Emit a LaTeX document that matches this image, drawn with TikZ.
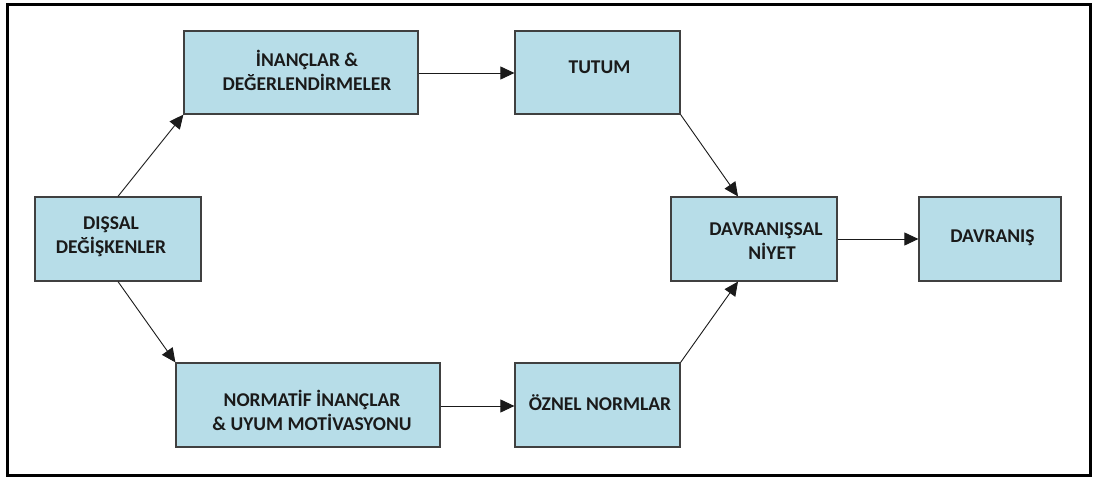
\documentclass[tikz,border=0pt]{standalone}
\usepackage{fontspec}
\setmainfont{Carlito}
\usetikzlibrary{arrows.meta}
\definecolor{boxfill}{HTML}{B7DDE8}
\definecolor{boxline}{HTML}{404040}
\definecolor{ink}{HTML}{1A1A1A}
\begin{document}
\begin{tikzpicture}[x=1pt,y=-1pt,
  box/.style={draw=boxline,line width=1.2pt,fill=boxfill,inner sep=0pt},
  lbl/.style={font=\bfseries\fontsize{19.5}{24}\selectfont,text=ink,align=center,inner sep=0pt},
  conn/.style={draw=ink,line width=0.9pt,-{Triangle[length=14pt,width=13pt]}}]
  \useasboundingbox (0,0) rectangle (1093,478);
  \fill[white] (0,0) rectangle (1093,478);
  \draw[line width=3pt] (7.5,4.5) rectangle (1090.5,475.5);

  % boxes
  \node[box,minimum width=234pt,minimum height=83pt] (inan) at (301,72.5) {};
  \node[box,minimum width=165pt,minimum height=83pt] (tutum) at (597.5,72.5) {};
  \node[box,minimum width=166pt,minimum height=84pt] (dis) at (118,239) {};
  \node[box,minimum width=264pt,minimum height=84pt] (norm) at (308,405) {};
  \node[box,minimum width=165pt,minimum height=84pt] (oznel) at (597.5,405) {};
  \node[box,minimum width=166pt,minimum height=84pt] (niyet) at (754,239) {};
  \node[box,minimum width=142pt,minimum height=84pt] (davr) at (990,239) {};

  % texts
  \node[lbl] (tinan) at (307,70) {İNANÇLAR \&\\DEĞERLENDİRMELER};
  \node[lbl] (ttutum) at (599.5,67) {TUTUM};
  \node[lbl] (tdis) at (111,237) {DIŞSAL\\DEĞİŞKENLER};
  \node[lbl] (tnorm) at (312,410) {NORMATİF İNANÇLAR\\\& UYUM MOTİVASYONU};
  \node[lbl] (toznel) at (600,403) {ÖZNEL NORMLAR};
  \node[lbl] (tniyet) at (766,241.5) {DAVRANIŞSAL\\\hspace*{12pt}NİYET};
  \node[lbl] (tdavr) at (992.5,238) {DAVRANIŞ};

  % connectors
  \draw[conn] (dis.north) -- (inan.south west);
  \draw[conn] (dis.south) -- (norm.north west);
  \draw[conn] (inan.east |- 0,73) -- (tutum.west |- 0,73);
  \draw[conn] (norm.east |- 0,406) -- (oznel.west |- 0,406);
  \draw[conn] (tutum.south east) -- (niyet.north -| 738,0);
  \draw[conn] (oznel.north east) -- (niyet.south -| 738,0);
  \draw[conn] (niyet.east) -- (davr.west);
\end{tikzpicture}
\end{document}
